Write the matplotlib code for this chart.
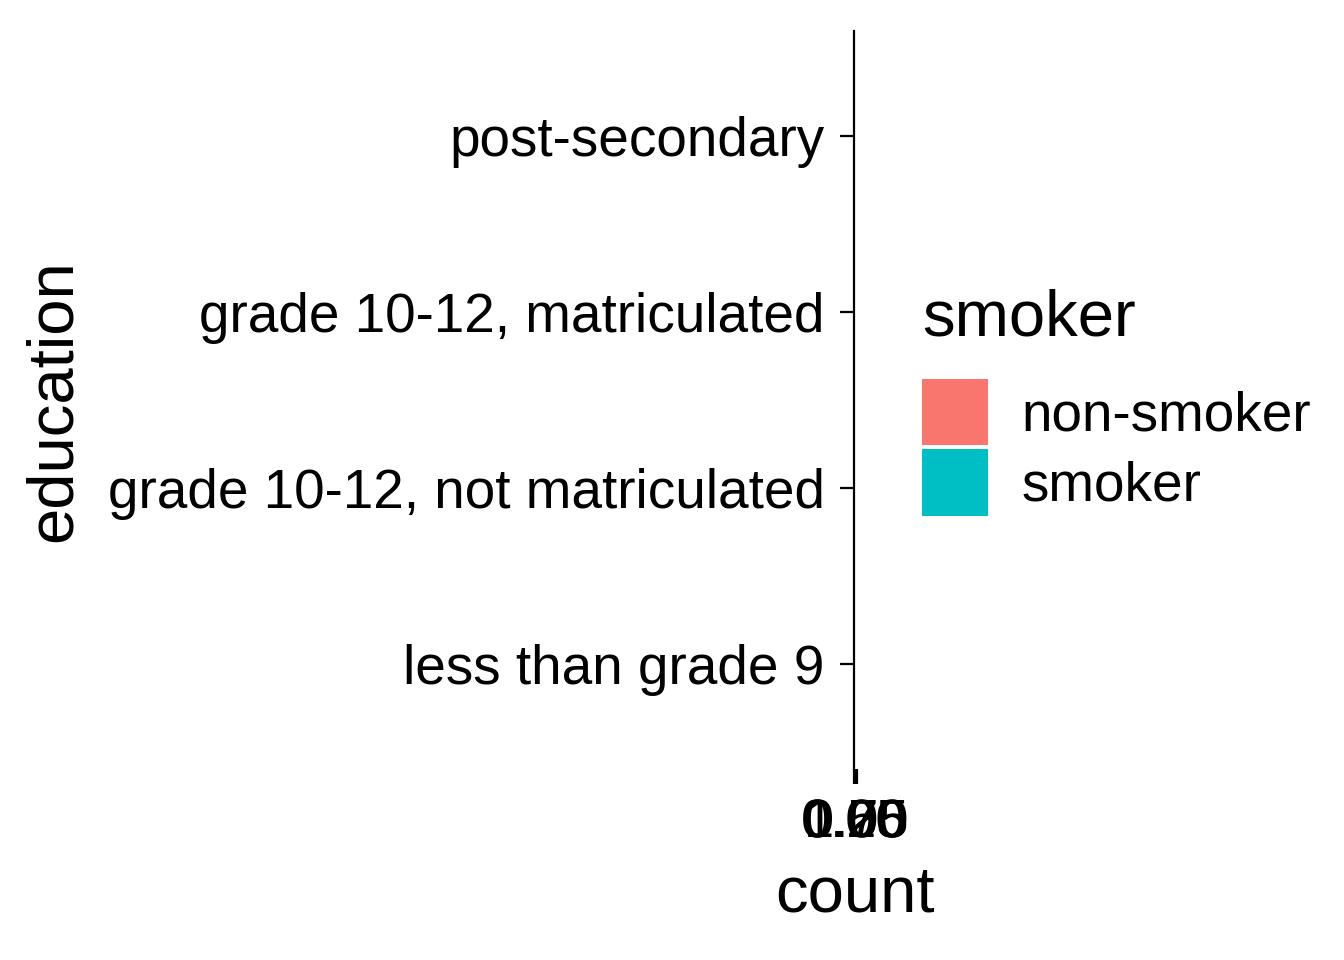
import matplotlib
matplotlib.use("Agg")
import matplotlib.pyplot as plt
from matplotlib.patches import Patch

plt.rcParams['font.family'] = ['Liberation Sans', 'DejaVu Sans']

categories = ["less than grade 9", "grade 10-12, not matriculated",
              "grade 10-12, matriculated", "post-secondary"]
nonsmoker_counts = [0, 0, 0, 0]
smoker_counts = [0, 0, 0, 0]
x_ticks = [0.00, 0.25, 0.50, 0.75, 1.00]
x_tick_labels = ["0.00", "0.25", "0.50", "0.75", "1.00"]
series_names = ["non-smoker", "smoker"]
series_colors = ["#F8766D", "#00BFC4"]

W, H = 1344, 960
fig = plt.figure(figsize=(W / 100, H / 100), dpi=100)
x0, x1 = 854, 857
y_top, y_bot = 31, 769
ax = fig.add_axes([x0 / W, 1 - y_bot / H, (x1 - x0) / W, (y_bot - y_top) / H])

ypos = list(range(1, len(categories) + 1))
ax.barh(ypos, nonsmoker_counts, color=series_colors[0])
ax.barh(ypos, smoker_counts, left=nonsmoker_counts, color=series_colors[1])

ax.set_ylim(0.4, len(categories) + 0.6)
ax.set_xlim(0, 1)
ax.set_yticks(ypos)
ax.set_yticklabels(categories, fontsize=39.5)
ax.set_xticks(x_ticks)
ax.set_xticklabels(x_tick_labels, fontsize=39)
for s in ["top", "right", "bottom"]:
    ax.spines[s].set_visible(False)
ax.spines["left"].set_linewidth(1.6)
ax.tick_params(axis="y", length=10, width=1.6, pad=11, colors="black")
ax.tick_params(axis="x", length=11, width=1.6, pad=10, colors="black")
ax.set_xlabel("count", fontsize=47)
ax.set_ylabel("education", fontsize=47)
ax.xaxis.set_label_coords(855 / W, 1 - 864 / H, transform=fig.transFigure)
ax.yaxis.set_label_coords(84 / W, 1 - 401 / H, transform=fig.transFigure)
ax.patch.set_alpha(0)

handles = [Patch(facecolor=c, edgecolor="none") for c in series_colors]
leg = fig.legend(handles, series_names, title="smoker", loc="upper left",
                 bbox_to_anchor=(922 / W, 1 - 289 / H), frameon=False,
                 fontsize=39.5, title_fontsize=47, handlelength=1.2, handleheight=1.49,
                 handletextpad=0.62, labelspacing=0.07, borderaxespad=0, borderpad=0)
leg._legend_box.align = "left"
leg._legend_box.sep = 21.5

fig.savefig("out.png", dpi=100)
